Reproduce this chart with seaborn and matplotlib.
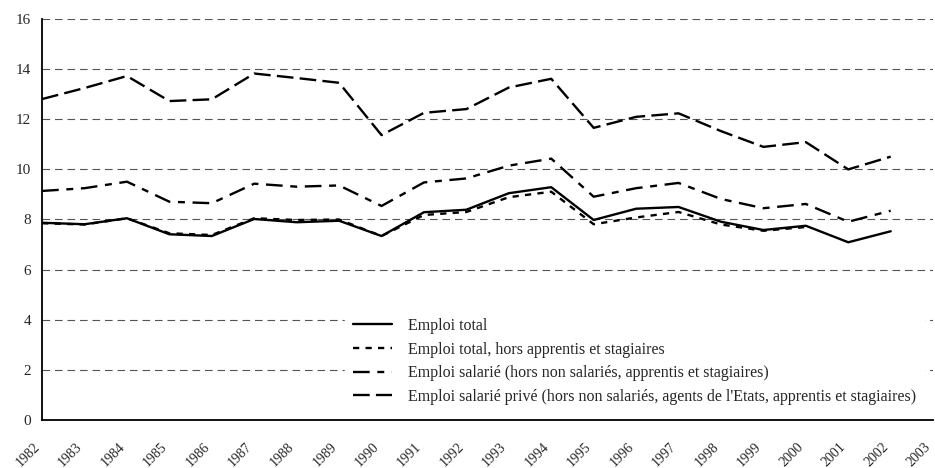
import numpy as np
import pandas as pd
import matplotlib
matplotlib.use("Agg")
import matplotlib.pyplot as plt
from matplotlib.transforms import ScaledTranslation
import seaborn as sns

# ==============================
# Data
# ==============================

years = list(range(1982, 2003))

emploi_total = [7.87, 7.81, 8.05, 7.41, 7.34, 8.02, 7.89, 7.95, 7.34, 8.29, 8.39,
                9.05, 9.29, 7.98, 8.43, 8.50, 7.91, 7.58, 7.75, 7.09, 7.53]

emploi_hors_app = [7.85, 7.80, 8.05, 7.45, 7.38, 8.05, 7.98, 8.00, 7.34, 8.18, 8.30,
                   8.89, 9.11, 7.81, 8.08, 8.30, 7.80, 7.55, 7.70, np.nan, np.nan]

emploi_salarie = [9.14, 9.25, 9.51, 8.71, 8.65, 9.43, 9.31, 9.36, 8.54, 9.48, 9.64,
                  10.15, 10.43, 8.91, 9.25, 9.46, 8.82, 8.45, 8.62, 7.91, 8.35]

emploi_prive = [12.81, 13.25, 13.73, 12.73, 12.80, 13.83, 13.65, 13.46, 11.37, 12.26, 12.41,
                13.27, 13.62, 11.66, 12.10, 12.24, 11.53, 10.90, 11.09, 10.00, 10.51]

labels = [
    "Emploi total",
    "Emploi total, hors apprentis et stagiaires",
    "Emploi salarié (hors non salariés, apprentis et stagiaires)",
    "Emploi salarié privé (hors non salariés, agents de l'Etats, apprentis et stagiaires)",
]

year_ticks = list(range(1982, 2004))
y_ticks = list(range(0, 17, 2))

# ==============================
# Style
# ==============================

sns.set_style("white")
plt.rcParams["font.family"] = ["Liberation Serif", "DejaVu Serif"]
plt.rcParams["lines.scale_dashes"] = False

styles = [
    "-",
    (0, (4.5, 4.5)),
    (0, (12, 5.5, 5, 5.5)),
    (0, (12, 4.5)),
]

fig, ax = plt.subplots(figsize=(9.35, 4.68), dpi=100)
fig.subplots_adjust(left=0.045, right=0.998, top=0.959, bottom=0.103)

# gridlines
for yv in y_ticks[1:]:
    ax.axhline(yv, color="#555555", lw=0.8, linestyle=(0, (5.5, 3.5)), zorder=0)

series = [emploi_total, emploi_hors_app, emploi_salarie, emploi_prive]
for vals, lab, ls in zip(series, labels, styles):
    sns.lineplot(x=years, y=vals, ax=ax, color="black", lw=1.7,
                 linestyle=ls, label=lab, zorder=3)

ax.set_xlim(1982, 2003)
ax.set_ylim(0, 16)
ax.set_xticks(year_ticks)
ax.set_xticklabels([str(y) for y in year_ticks], rotation=45, ha="right",
                   va="top", rotation_mode="anchor", fontsize=10)
ax.set_yticks(y_ticks)
ax.set_yticklabels([str(v) for v in y_ticks], fontsize=11)
ax.tick_params(axis="x", direction="out", length=4, width=1, color="black", pad=10.5)
ax.tick_params(axis="y", length=0, pad=8)

shift = ScaledTranslation(-9 / 100, 0, fig.dpi_scale_trans)
for t in ax.get_xticklabels():
    t.set_transform(t.get_transform() + shift)

sns.despine(ax=ax, top=True, right=True)
for side in ["left", "bottom"]:
    ax.spines[side].set_linewidth(1.3)
    ax.spines[side].set_color("black")

leg = ax.legend(loc="lower left", bbox_to_anchor=(0.340, 0.017), fontsize=11.5,
                frameon=True, fancybox=False, framealpha=1, handlelength=2.45,
                handletextpad=1.0, labelspacing=0.48, borderpad=0.5,
                borderaxespad=0)
leg.get_frame().set_edgecolor("white")
leg.get_frame().set_facecolor("white")
leg.set_zorder(5)

fig.savefig("out.png", dpi=100)
